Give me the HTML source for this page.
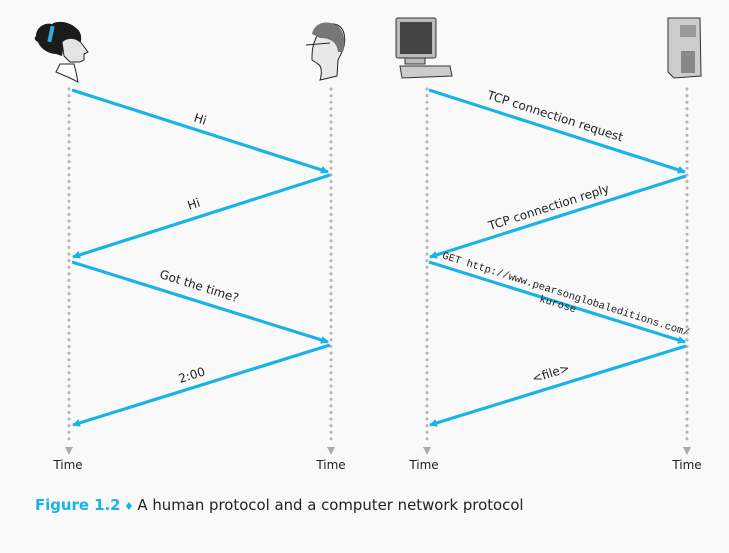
<!DOCTYPE html>
<html><head><meta charset="utf-8"><style>
body{margin:0;background:#f9f9f9;}
svg{display:block;font-family:"DejaVu Sans","Liberation Sans",sans-serif;}
</style></head><body>
<svg width="729" height="553" viewBox="0 0 729 553">
<defs>
<marker id="ah" markerWidth="8" markerHeight="8" refX="7" refY="4" orient="auto" markerUnits="userSpaceOnUse" viewBox="0 0 8 8"><path d="M0,0 L8,4 L0,8 Z" fill="#1ab3e6"/></marker>
</defs>
<rect width="729" height="553" fill="#f9f9f9"/>
<g stroke="#b5b5b5" stroke-width="3" stroke-dasharray="0.1 6.5" stroke-linecap="round">
<line x1="69" y1="89" x2="69" y2="444"/>
<line x1="331" y1="89" x2="331" y2="444"/>
<line x1="427" y1="89" x2="427" y2="444"/>
<line x1="687" y1="89" x2="687" y2="444"/>
</g>
<g fill="#aaa">
<path d="M65,447 L73,447 L69,455 Z"/><path d="M327,447 L335,447 L331,455 Z"/>
<path d="M423,447 L431,447 L427,455 Z"/><path d="M683,447 L691,447 L687,455 Z"/>
</g>
<g stroke="#1ab3e6" stroke-width="3.2" marker-end="url(#ah)">
<line x1="72" y1="90" x2="328" y2="172"/>
<line x1="330" y1="175" x2="73" y2="257"/>
<line x1="72" y1="262" x2="328" y2="342"/>
<line x1="330" y1="345" x2="73" y2="425"/>
<line x1="429" y1="90" x2="685" y2="172"/>
<line x1="686" y1="176" x2="430" y2="257"/>
<line x1="429" y1="262" x2="685" y2="342"/>
<line x1="686" y1="346" x2="430" y2="425"/>
</g>
<g font-size="12" fill="#222">
<text transform="translate(199,123) rotate(17.7)" text-anchor="middle">Hi</text>
<text transform="translate(195,208) rotate(-17.7)" text-anchor="middle">Hi</text>
<text transform="translate(198,290) rotate(17.5)" text-anchor="middle">Got the time?</text>
<text transform="translate(193,379) rotate(-17.3)" text-anchor="middle">2:00</text>
<text transform="translate(554,120) rotate(17.7)" text-anchor="middle">TCP connection request</text>
<text transform="translate(550,211) rotate(-17.7)" text-anchor="middle">TCP connection reply</text>
<text transform="translate(552,377) rotate(-17.3)" text-anchor="middle">&lt;file&gt;</text>
<g font-family="Liberation Mono,monospace" font-size="10.5">
<text transform="translate(565,297) rotate(17.5)" text-anchor="middle">GET http://www.pearsonglobaleditions.com/</text>
<text transform="translate(557,307) rotate(17.5)" text-anchor="middle">kurose</text>
</g>
<text x="68" y="469" text-anchor="middle">Time</text>
<text x="331" y="469" text-anchor="middle">Time</text>
<text x="424" y="469" text-anchor="middle">Time</text>
<text x="687" y="469" text-anchor="middle">Time</text>
</g>
<g>
<path d="M56,72 L60,64 L74,64 L76,72 L78,82 L70,78 Z" fill="#fff" stroke="#222"/>
<path d="M36,36 C36,28 44,22 52,24 C58,20 70,22 76,28 C82,32 82,40 80,44 L76,46 L72,42 L64,44 L62,56 L56,54 C48,54 40,48 38,42 C34,40 34,38 36,36 Z" fill="#1b1b1b"/>
<path d="M62,42 C68,36 78,38 82,44 L88,52 L84,54 L84,60 L80,62 L70,62 L64,56 Z" fill="#e3e4e6" stroke="#222"/>
<rect x="49" y="26" width="4" height="16" fill="#2ab0e0" transform="rotate(12 51 34)"/>
</g>
<g>
<path d="M312,56 C312,40 322,22 334,24 C346,26 346,40 343,50 L338,60 L337,76 L320,80 C322,74 322,66 318,64 L312,60 Z" fill="#e8e8e8" stroke="#222"/>
<path d="M312,34 C314,24 324,20 334,24 C344,28 346,40 343,52 L338,52 C337,42 330,38 320,38 Z" fill="#777"/>
<line x1="306" y1="45" x2="330" y2="43" stroke="#222"/>
</g>
<g>
<rect x="396" y="18" width="40" height="40" rx="2" fill="#bbb" stroke="#333"/>
<rect x="400" y="22" width="32" height="32" fill="#444"/>
<rect x="405" y="58" width="20" height="6" fill="#bbb" stroke="#333"/>
<path d="M400,66 L450,66 L452,76 L402,78 Z" fill="#ccc" stroke="#333"/>
</g>
<g>
<path d="M668,18 L700,18 L701,76 L674,78 L668,72 Z" fill="#ccc" stroke="#333"/>
<rect x="680" y="25" width="16" height="12" fill="#999"/>
<rect x="681" y="51" width="14" height="22" fill="#888"/>
</g>
<text x="35" y="510" font-size="14.9" fill="#222"><tspan fill="#1ab3e6" font-weight="bold">Figure 1.2</tspan><tspan fill="#1ab3e6" font-size="11"> ♦ </tspan>A human protocol and a computer network protocol</text>
</svg>
</body></html>
